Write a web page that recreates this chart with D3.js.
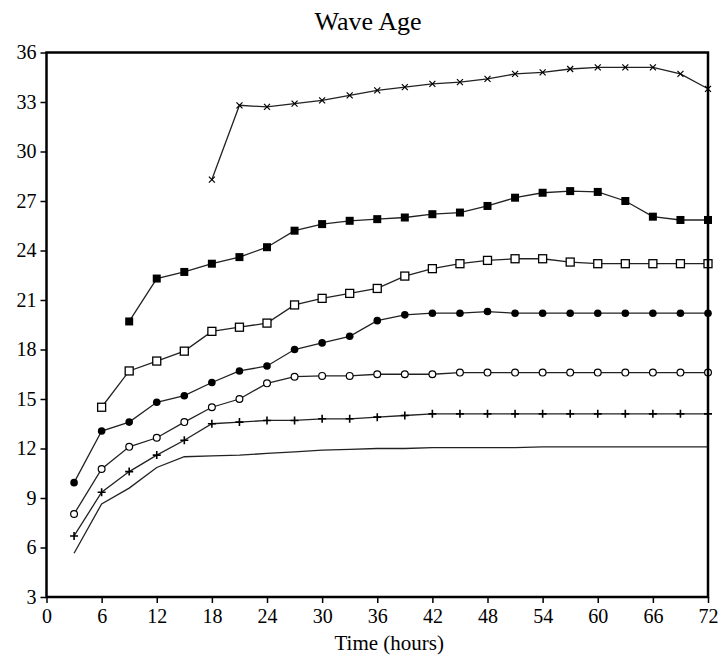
<!DOCTYPE html>
<meta charset="utf-8">
<style>
body { margin: 0; background: #fff; }
text { font-family: "Liberation Serif", "Times New Roman", serif; fill: #000; }
</style>
<svg id="chart"></svg>
<script src="https://cdn.jsdelivr.net/npm/d3@7/dist/d3.min.js"></script>
<script>

var width = 719,
    height = 656,
    margin = {top: 52.5, right: 11, bottom: 59, left: 46.5};

var hours = [3, 6, 9, 12, 15, 18, 21, 24, 27, 30, 33, 36, 39, 42, 45, 48, 51, 54, 57, 60, 63, 66, 69, 72];
var xTicks = [0, 6, 12, 18, 24, 30, 36, 42, 48, 54, 60, 66, 72];
var yTicks = [3, 6, 9, 12, 15, 18, 21, 24, 27, 30, 33, 36];

// values start at the first hour given, one per 3 h
var crossStart = 18;
var crossVals = [28.3, 32.8, 32.7, 32.9, 33.1, 33.4, 33.7, 33.9, 34.1, 34.2, 34.4, 34.7, 34.8, 35.0, 35.1, 35.1, 35.1, 34.7, 33.8];
var fSquareStart = 9;
var fSquareVals = [19.7, 22.3, 22.7, 23.2, 23.6, 24.2, 25.2, 25.6, 25.8, 25.9, 26.0, 26.2, 26.3, 26.7, 27.2, 27.5, 27.6, 27.55, 27.0, 26.05, 25.85, 25.85];
var oSquareStart = 6;
var oSquareVals = [14.5, 16.7, 17.3, 17.9, 19.1, 19.35, 19.6, 20.7, 21.1, 21.4, 21.7, 22.45, 22.9, 23.2, 23.4, 23.5, 23.5, 23.3, 23.2, 23.2, 23.2, 23.2, 23.2];
var fCircleStart = 3;
var fCircleVals = [9.93, 13.06, 13.6, 14.8, 15.2, 16.0, 16.7, 17.0, 18.0, 18.4, 18.8, 19.75, 20.1, 20.2, 20.2, 20.3, 20.2, 20.2, 20.2, 20.2, 20.2, 20.2, 20.2, 20.2];
var oCircleStart = 3;
var oCircleVals = [8.03, 10.76, 12.1, 12.65, 13.6, 14.5, 15.0, 15.95, 16.35, 16.4, 16.4, 16.5, 16.5, 16.5, 16.6, 16.6, 16.6, 16.6, 16.6, 16.6, 16.6, 16.6, 16.6, 16.6];
var plusStart = 3;
var plusVals = [6.7, 9.35, 10.6, 11.6, 12.5, 13.5, 13.6, 13.7, 13.7, 13.8, 13.8, 13.9, 14.0, 14.1, 14.1, 14.1, 14.1, 14.1, 14.1, 14.1, 14.1, 14.1, 14.1, 14.1];
var plainStart = 3;
var plainVals = [5.65, 8.64, 9.6, 10.85, 11.5, 11.55, 11.6, 11.7, 11.8, 11.9, 11.95, 12.0, 12.0, 12.05, 12.05, 12.05, 12.05, 12.1, 12.1, 12.1, 12.1, 12.1, 12.1, 12.1];

var series = [
  {start: crossStart, vals: crossVals, mark: "cross"},
  {start: fSquareStart, vals: fSquareVals, mark: "fsquare"},
  {start: oSquareStart, vals: oSquareVals, mark: "osquare"},
  {start: fCircleStart, vals: fCircleVals, mark: "fcircle"},
  {start: oCircleStart, vals: oCircleVals, mark: "ocircle"},
  {start: plusStart, vals: plusVals, mark: "plus"},
  {start: plainStart, vals: plainVals, mark: "none"}
];
series.forEach(function(s) {
  var i0 = hours.indexOf(s.start);
  s.points = s.vals.map(function(v, i) { return [hours[i0 + i], v]; });
});

var x = d3.scaleLinear().domain([0, 72]).range([margin.left, width - margin.right]);
var y = d3.scaleLinear().domain([3, 36]).range([height - margin.bottom, margin.top]);

var svg = d3.select("#chart").attr("width", width).attr("height", height);

svg.append("text")
    .attr("x", 368).attr("y", 29.5)
    .attr("text-anchor", "middle")
    .style("font-size", "26px")
    .text("Wave Age");

var line = d3.line().x(function(d) { return x(d[0]); }).y(function(d) { return y(d[1]); });

svg.append("g").selectAll("path.ln")
    .data(series)
  .enter().append("path")
    .attr("class", "ln")
    .attr("d", function(d) { return line(d.points); })
    .attr("fill", "none")
    .attr("stroke", "#222")
    .attr("stroke-width", 1.3);

var marks = svg.append("g");
series.forEach(function(s) {
  if (s.mark === "none") return;
  var g = marks.append("g").selectAll("g")
      .data(s.points)
    .enter().append("g")
      .attr("transform", function(d) { return "translate(" + x(d[0]) + "," + y(d[1]) + ")"; });
  if (s.mark === "fsquare") {
    g.append("rect").attr("x", -4).attr("y", -4).attr("width", 8).attr("height", 8).attr("fill", "#000");
  } else if (s.mark === "osquare") {
    g.append("rect").attr("x", -4).attr("y", -4).attr("width", 8).attr("height", 8)
        .attr("fill", "#fff").attr("stroke", "#000").attr("stroke-width", 1.3);
  } else if (s.mark === "fcircle") {
    g.append("circle").attr("r", 3.8).attr("fill", "#000");
  } else if (s.mark === "ocircle") {
    g.append("circle").attr("r", 3.4).attr("fill", "#fff").attr("stroke", "#000").attr("stroke-width", 1.2);
  } else if (s.mark === "plus") {
    g.append("path").attr("d", "M-4,0H4M0,-4V4").attr("stroke", "#000").attr("stroke-width", 1.6);
  } else if (s.mark === "cross") {
    g.append("path").attr("d", "M-3,-3L3,3M-3,3L3,-3").attr("stroke", "#000").attr("stroke-width", 1.2);
  }
});

// frame
svg.append("rect")
    .attr("x", x(0)).attr("y", y(36))
    .attr("width", x(72) - x(0)).attr("height", y(3) - y(36))
    .attr("fill", "none").attr("stroke", "#000").attr("stroke-width", 2.5);

var xAxis = svg.append("g")
    .attr("transform", "translate(0," + y(3) + ")")
    .call(d3.axisBottom(x).tickValues(xTicks).tickSize(6).tickPadding(6));
var yAxis = svg.append("g")
    .attr("transform", "translate(" + x(0) + ",0)")
    .call(d3.axisLeft(y).tickValues(yTicks).tickSize(6).tickPadding(4));

[xAxis, yAxis].forEach(function(a) {
  a.select(".domain").remove();
  a.selectAll(".tick line").attr("stroke", "#000").attr("stroke-width", 1.5);
  a.selectAll(".tick text")
      .style("font-family", "'Liberation Serif', 'Times New Roman', serif")
      .style("font-size", "20px")
      .attr("fill", "#000");
});

svg.append("text")
    .attr("x", (x(0) + x(72)) / 2 + 12).attr("y", 650)
    .attr("text-anchor", "middle")
    .style("font-size", "21px")
    .text("Time (hours)");

</script>
